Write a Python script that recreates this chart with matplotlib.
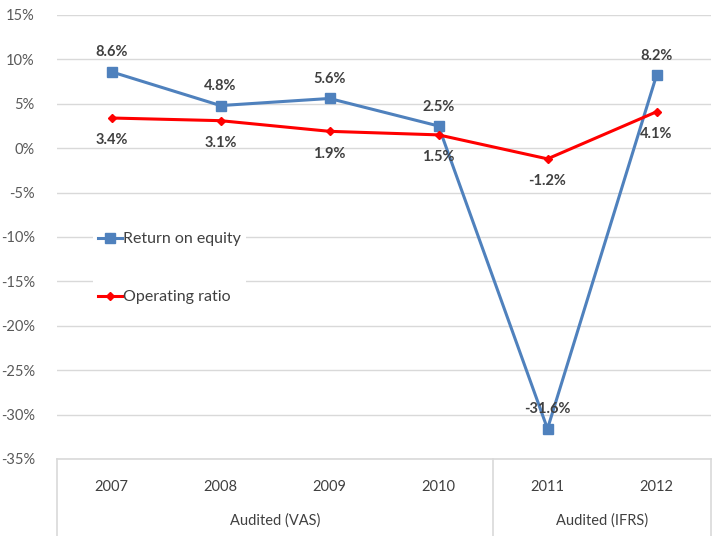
import matplotlib
matplotlib.use("Agg")
import matplotlib.pyplot as plt
from matplotlib.ticker import FuncFormatter, MultipleLocator

plt.rcParams['font.family'] = ['Lato', 'DejaVu Sans']

years = ["2007", "2008", "2009", "2010", "2011", "2012"]
groups = ["Audited (VAS)", "Audited (IFRS)"]
group_sizes = [4, 2]
roe = [8.6, 4.8, 5.6, 2.5, -31.6, 8.2]
op_ratio = [3.4, 3.1, 1.9, 1.5, -1.2, 4.1]

blue = "#4F81BD"
red = "#FF0000"
grid_c = "#D9D9D9"
text_c = "#404040"

fig = plt.figure(figsize=(7.13, 5.36), dpi=100)
ax = fig.add_axes([57 / 713, 1 - 459 / 536, 654 / 713, 444 / 536])

x = list(range(len(years)))
ax.plot(x, roe, color=blue, lw=2.2, marker="s", ms=7, label="Return on equity", zorder=3)
ax.plot(x, op_ratio, color=red, lw=2.2, marker="D", ms=4.5, label="Operating ratio", zorder=4)

for xi, v in zip(x, roe):
    ax.annotate(f"{v:.1f}%", (xi, v), xytext=(0, 14), textcoords="offset points",
                ha="center", va="center", fontsize=10.5, fontweight="bold", color=text_c, zorder=5)
for xi, v in zip(x, op_ratio):
    ax.annotate(f"{v:.1f}%", (xi, v), xytext=(0, -16), textcoords="offset points",
                ha="center", va="center", fontsize=10.5, fontweight="bold", color=text_c, zorder=5)

ax.set_xlim(-0.5, len(years) - 0.5)
ax.set_ylim(-35, 15)
ax.yaxis.set_major_locator(MultipleLocator(5))
ax.yaxis.set_major_formatter(FuncFormatter(lambda v, p: f"{v:.0f}%"))
ax.grid(axis="y", color=grid_c, lw=1)
ax.set_axisbelow(True)
for s in ax.spines.values():
    s.set_visible(False)
ax.tick_params(axis="y", length=0, pad=16, labelsize=10.5, labelcolor="#595959")
ax.tick_params(axis="x", length=0, labelbottom=False)

# two-level category axis drawn below the plot area
tr = ax.get_xaxis_transform()
bottom = -77 / 444
ax.plot([-0.5, len(years) - 0.5], [0, 0], transform=tr, color=grid_c, lw=1.2, clip_on=False)
edges = [-0.5]
for n in group_sizes:
    edges.append(edges[-1] + n)
for e in edges:
    ax.plot([e, e], [0, bottom], transform=tr, color=grid_c, lw=1.2, clip_on=False)
for xi, yr in zip(x, years):
    ax.text(xi, -28 / 444, yr, transform=tr, ha="center", va="center",
            fontsize=10.5, color=text_c)
for i, g in enumerate(groups):
    ax.text((edges[i] + edges[i + 1]) / 2, -62 / 444, g, transform=tr, ha="center",
            va="center", fontsize=10.5, color=text_c)

leg = ax.legend(loc="upper left", bbox_to_anchor=(0.043, 0.54), frameon=True,
                fontsize=11.5, labelspacing=2.75, handlelength=1.5, handletextpad=0.1,
                borderpad=0.3, fancybox=False)
leg.get_frame().set_edgecolor("none")
leg.get_frame().set_facecolor("white")
leg.get_frame().set_alpha(1)
for t in leg.get_texts():
    t.set_color(text_c)

fig.savefig("out.png", dpi=100)
